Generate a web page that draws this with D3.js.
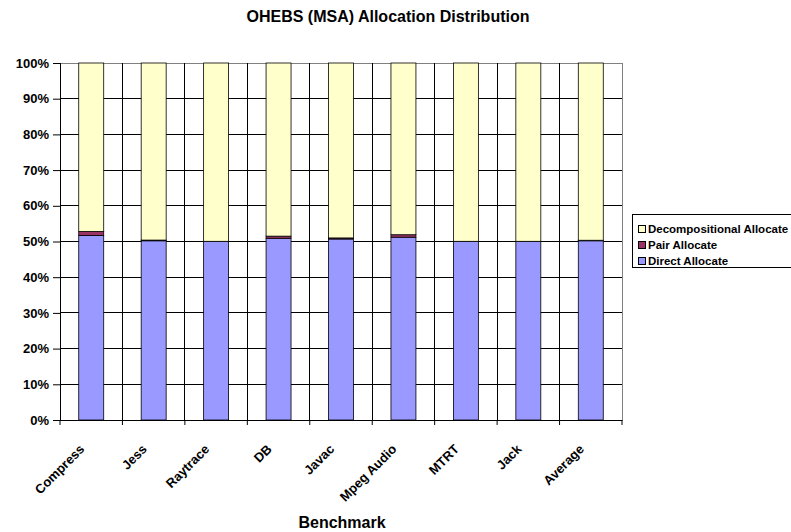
<!DOCTYPE html>
<html><head><meta charset="utf-8">
<script src="https://cdn.jsdelivr.net/npm/d3@7"></script>
<style>body{margin:0;background:#fff}svg{display:block;font-family:"Liberation Sans",Arial,sans-serif}</style>
</head><body><svg id="c" width="791" height="532"></svg>
<script>
const categories = ["Compress","Jess","Raytrace","DB","Javac","Mpeg Audio","MTRT","Jack","Average"];
const directAllocate = [51.7, 50.2, 50.0, 50.9, 50.7, 51.2, 50.0, 50.0, 50.2];
const pairAllocate   = [1.1, 0.2, 0.05, 0.6, 0.3, 0.7, 0.05, 0.05, 0.15];
const decompAllocate = categories.map((c,i)=>100 - directAllocate[i] - pairAllocate[i]);
const seriesNames = ["Direct Allocate","Pair Allocate","Decompositional Allocate"];
const seriesColors = ["#9999FF","#993366","#FFFFCC"];
const yTicks = [0,10,20,30,40,50,60,70,80,90,100];

const svg = d3.select("#c");
const m = {l:60, r:622, t:63, b:420};
const x = d3.scaleBand().domain(categories).range([m.l, m.r]).paddingInner(0.6).paddingOuter(0.3);
const xb = d3.scaleBand().domain(categories).range([m.l, m.r]);
const y = d3.scaleLinear().domain([0,100]).range([m.b, m.t]);

// horizontal grid
svg.append("g").selectAll("line").data(yTicks).join("line")
  .attr("x1", m.l).attr("x2", m.r).attr("y1", d=>y(d)).attr("y2", d=>y(d))
  .attr("stroke", d=>d===100?"#808080":"#000").attr("stroke-width",1).attr("shape-rendering","crispEdges");
// vertical grid at category boundaries
const bounds = categories.map(c=>xb(c)).concat([m.r]);
svg.append("g").selectAll("line").data(bounds).join("line")
  .attr("x1", d=>d).attr("x2", d=>d).attr("y1", m.t).attr("y2", m.b)
  .attr("stroke", (d,i)=>i===bounds.length-1?"#808080":"#000").attr("shape-rendering","crispEdges");

// stacked bars
const rows = categories.map((c,i)=>({cat:c, "Direct Allocate":directAllocate[i], "Pair Allocate":pairAllocate[i], "Decompositional Allocate":decompAllocate[i]}));
const stack = d3.stack().keys(seriesNames)(rows);
svg.append("g").selectAll("g").data(stack).join("g")
  .attr("fill", (d,i)=>seriesColors[i])
  .selectAll("rect").data(d=>d).join("rect")
  .attr("x", d=>x(d.data.cat)).attr("width", x.bandwidth())
  .attr("y", d=>y(d[1])).attr("height", d=>y(d[0])-y(d[1]))
  .attr("stroke", "#000").attr("stroke-width", 0.8);

// y axis
const ya = d3.axisLeft(y).tickValues(yTicks).tickFormat(d=>d+"%").tickSize(7).tickSizeOuter(0).tickPadding(4);
const gy = svg.append("g").attr("transform",`translate(${m.l},0)`).call(ya);
gy.select(".domain").attr("stroke","#000");
gy.selectAll("text").attr("font-size",13).attr("font-weight","bold").attr("fill","#000");
// x axis
const xa = d3.axisBottom(xb).tickSize(0).tickSizeOuter(0).tickFormat(()=> "");
const gx = svg.append("g").attr("transform",`translate(0,${m.b})`).call(xa);
gx.select(".domain").attr("stroke","#000");
svg.append("g").selectAll("line").data(bounds).join("line")
  .attr("x1", d=>d).attr("x2", d=>d).attr("y1", m.b).attr("y2", m.b+5).attr("stroke","#000");
svg.append("g").selectAll("text").data(categories).join("text")
  .attr("transform", d=>`translate(${xb(d)+xb.bandwidth()/2-6},450) rotate(-45)`)
  .attr("text-anchor","end").attr("font-size",13).attr("font-weight","bold").text(d=>d);

// titles
svg.append("text").attr("x",388).attr("y",22).attr("text-anchor","middle")
  .attr("font-size",16).attr("font-weight","bold").text("OHEBS (MSA) Allocation Distribution");
svg.append("text").attr("x",342).attr("y",528).attr("text-anchor","middle")
  .attr("font-size",16).attr("font-weight","bold").text("Benchmark");

// legend
const lg = svg.append("g");
lg.append("rect").attr("x",632.5).attr("y",214.5).attr("width",180).attr("height",53).attr("fill","#fff").attr("stroke","#000");
const legendOrder = [2,1,0];
legendOrder.forEach((si,k)=>{
  const yy = 229 + k*16;
  lg.append("rect").attr("x",638.5).attr("y",yy-3.5).attr("width",7).attr("height",7).attr("fill",seriesColors[si]).attr("stroke","#000");
  lg.append("text").attr("x",648).attr("y",yy+4).attr("font-size",11.5).attr("font-weight","bold").text(seriesNames[si]);
});
</script></body></html>
